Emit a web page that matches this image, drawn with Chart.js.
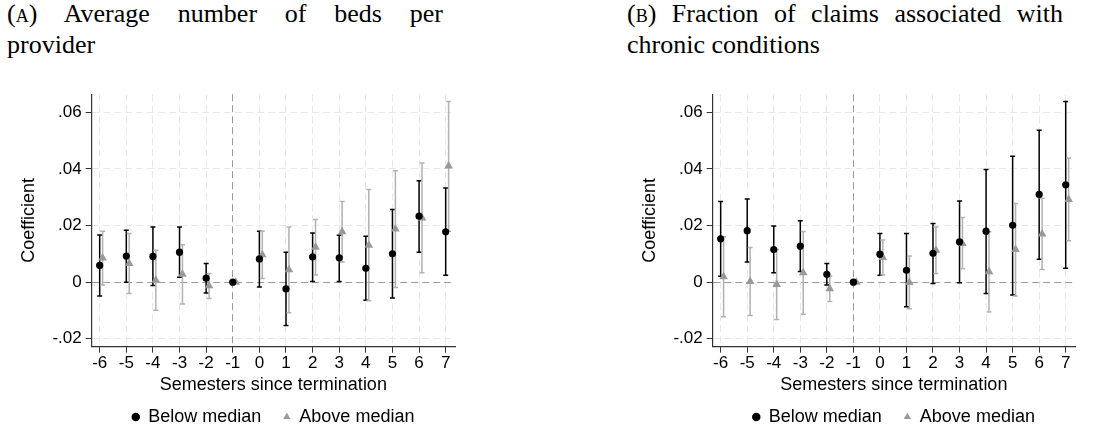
<!DOCTYPE html>
<html>
<head>
<meta charset="utf-8">
<script src="https://cdn.jsdelivr.net/npm/chart.js@4.4.1/dist/chart.umd.min.js"></script>
<style>
    html, body { margin: 0; padding: 0; background: #fff; width: 1096px; height: 431px; overflow: hidden; }
    .ttl { position: absolute; top: -2px; width: 436px; font-family: 'Liberation Serif', 'Times New Roman', serif; font-size: 26px; line-height: 31px; color: #000; }
    .ttl .l1 { text-align: justify; text-align-last: justify; }
    .sc { font-variant: small-caps; }
    canvas { position: absolute; }
</style>
</head>
<body>
<div class="ttl" style="left:7px"><div class="l1">(<span class="sc">a</span>) Average number of beds per</div><div>provider</div></div>
<div class="ttl" style="left:627px"><div class="l1">(<span class="sc">b</span>) Fraction of claims associated with</div><div>chronic conditions</div></div>
<canvas id="bedsChart" width="502" height="356" style="left:0px; top:80px; width:502px; height:356px"></canvas>
<canvas id="chronicChart" width="475" height="356" style="left:621px; top:80px; width:475px; height:356px"></canvas>
<script>
// 数据
const semesters = [-6, -5, -4, -3, -2, -1, 0, 1, 2, 3, 4, 5, 6, 7];
const yTicks = [-0.02, 0, 0.02, 0.04, 0.06];
const yTickLabels = ['-.02', '0', '.02', '.04', '.06'];
const seriesNames = ['Below median', 'Above median'];

// (A) beds per provider
const bedsBelow   = [0.0059, 0.0092, 0.0091, 0.0106, 0.0014, 0, 0.0082, -0.0024, 0.0089, 0.0086, 0.0049, 0.0100, 0.0233, 0.0178];
const bedsBelowLo = [-0.0049, 0.0000, -0.0012, 0.0017, -0.0038, 0, -0.0017, -0.0153, 0.0002, 0.0002, -0.0064, -0.0056, 0.0106, 0.0024];
const bedsBelowHi = [0.0167, 0.0183, 0.0195, 0.0195, 0.0066, 0, 0.0180, 0.0106, 0.0174, 0.0166, 0.0162, 0.0257, 0.0358, 0.0333];
const bedsAbove   = [0.0085, 0.0066, 0.0007, 0.0028, -0.0013, 0, 0.0097, 0.0044, 0.0123, 0.0178, 0.0130, 0.0188, 0.0227, 0.0410];
const bedsAboveLo = [-0.0010, -0.0040, -0.0099, -0.0077, -0.0058, 0, 0.0013, -0.0108, 0.0025, 0.0071, -0.0066, -0.0019, 0.0033, 0.0180];
const bedsAboveHi = [0.0180, 0.0172, 0.0113, 0.0132, 0.0031, 0, 0.0180, 0.0195, 0.0221, 0.0285, 0.0327, 0.0394, 0.0421, 0.0638];

// (B) chronic conditions
const chronicBelow   = [0.0153, 0.0182, 0.0115, 0.0127, 0.0028, 0, 0.0099, 0.0042, 0.0102, 0.0142, 0.0180, 0.0201, 0.0310, 0.0344];
const chronicBelowLo = [0.0021, 0.0071, 0.0033, 0.0038, -0.0010, 0, 0.0024, -0.0087, -0.0005, -0.0002, -0.0040, -0.0045, 0.0081, 0.0049];
const chronicBelowHi = [0.0285, 0.0294, 0.0198, 0.0217, 0.0066, 0, 0.0172, 0.0172, 0.0207, 0.0287, 0.0398, 0.0445, 0.0537, 0.0638];
const chronicAbove   = [0.0019, 0.0002, -0.0008, 0.0033, -0.0023, 0, 0.0087, -0.0001, 0.0113, 0.0137, 0.0037, 0.0115, 0.0170, 0.0292];
const chronicAboveLo = [-0.0122, -0.0118, -0.0132, -0.0113, -0.0068, 0, 0.0025, -0.0094, 0.0031, 0.0047, -0.0105, -0.0049, 0.0045, 0.0146];
const chronicAboveHi = [0.0160, 0.0122, 0.0115, 0.0179, 0.0021, 0, 0.0149, 0.0092, 0.0195, 0.0228, 0.0178, 0.0278, 0.0296, 0.0439];

Chart.defaults.font.family = "'Liberation Sans', Arial, sans-serif";
Chart.defaults.color = '#000';

// 置信区间线
const errorBars = {
    id: 'errorBars',
    beforeDatasetsDraw(chart) {
        const ctx = chart.ctx;
        const yScale = chart.scales.y;
        chart.data.datasets.forEach((ds, i) => {
            const meta = chart.getDatasetMeta(i);
            ctx.save();
            ctx.strokeStyle = ds.errColor;
            ctx.lineWidth = 1.5;
            meta.data.forEach((pt, j) => {
                const lo = yScale.getPixelForValue(ds.errLow[j]);
                const hi = yScale.getPixelForValue(ds.errHigh[j]);
                if (lo === hi) return;
                ctx.beginPath();
                ctx.moveTo(pt.x, lo);
                ctx.lineTo(pt.x, hi);
                ctx.moveTo(pt.x - 2.5, lo);
                ctx.lineTo(pt.x + 2.5, lo);
                ctx.moveTo(pt.x - 2.5, hi);
                ctx.lineTo(pt.x + 2.5, hi);
                ctx.stroke();
            });
            ctx.restore();
        });
    }
};

function makePanel(id, below, belowLo, belowHi, above, aboveLo, aboveHi, padRight) {
    new Chart(document.getElementById(id), {
        type: 'scatter',
        data: {
            datasets: [{
                label: seriesNames[0],
                data: semesters.map((s, i) => ({ x: s, y: below[i] })),
                errLow: belowLo,
                errHigh: belowHi,
                errColor: '#000',
                pointStyle: 'circle',
                pointRadius: 3.6,
                backgroundColor: '#000',
                borderColor: '#000',
                borderWidth: 0
            }, {
                label: seriesNames[1],
                data: semesters.map((s, i) => ({ x: s + 0.11, y: above[i] })),
                errLow: aboveLo,
                errHigh: aboveHi,
                errColor: '#b2b2b2',
                pointStyle: 'triangle',
                pointRadius: 5,
                backgroundColor: '#999',
                borderColor: '#999',
                borderWidth: 0
            }]
        },
        options: {
            responsive: false,
            animation: false,
            events: [],
            layout: { padding: { left: 14, top: 14, right: padRight, bottom: 0 } },
            scales: {
                x: {
                    type: 'linear',
                    min: -6.3,
                    max: 7.35,
                    afterBuildTicks: s => { s.ticks = semesters.map(v => ({ value: v })); },
                    afterFit: s => { s.height = 39.3; },
                    ticks: { font: { size: 17 }, color: '#000', padding: 0, maxRotation: 0, autoSkip: false,
                        callback: v => String(v) },
                    grid: {
                        color: c => (c.tick && c.tick.value === -1) ? '#9a9a9a' : '#e8e8e8',
                        lineWidth: 1, tickLength: 6, tickColor: '#333'
                    },
                    border: { display: true, color: '#333', width: 1.2, dash: [7, 4] },
                    title: { display: true, text: 'Semesters since termination', font: { size: 18 }, color: '#000',
                        padding: { top: 0, bottom: -10.3 } }
                },
                y: {
                    min: -0.0228,
                    max: 0.0664,
                    afterBuildTicks: s => { s.ticks = yTicks.map(v => ({ value: v })); },
                    afterFit: s => { s.width = 77.7; },
                    ticks: { font: { size: 17 }, color: '#000', padding: 4,
                        callback: (v, i) => yTickLabels[i] },
                    grid: {
                        color: c => (c.tick && c.tick.value === 0) ? '#9a9a9a' : '#e8e8e8',
                        lineWidth: 1, tickLength: 6, tickColor: '#333'
                    },
                    border: { display: true, color: '#333', width: 1.2, dash: [7, 4] },
                    title: { display: true, text: 'Coefficient', font: { size: 18 }, color: '#000',
                        padding: { top: 4, bottom: 4 } }
                }
            },
            plugins: {
                legend: {
                    position: 'bottom',
                    fullSize: false,
                    labels: { usePointStyle: true, boxWidth: 7, boxHeight: 6, padding: 22,
                        font: { size: 18 }, color: '#000' }
                },
                tooltip: { enabled: false }
            }
        },
        plugins: [errorBars]
    });
}

makePanel('bedsChart', bedsBelow, bedsBelowLo, bedsBelowHi, bedsAbove, bedsAboveLo, bedsAboveHi, 47);
makePanel('chronicChart', chronicBelow, chronicBelowLo, chronicBelowHi, chronicAbove, chronicAboveLo, chronicAboveHi, 21);
</script>
</body>
</html>
